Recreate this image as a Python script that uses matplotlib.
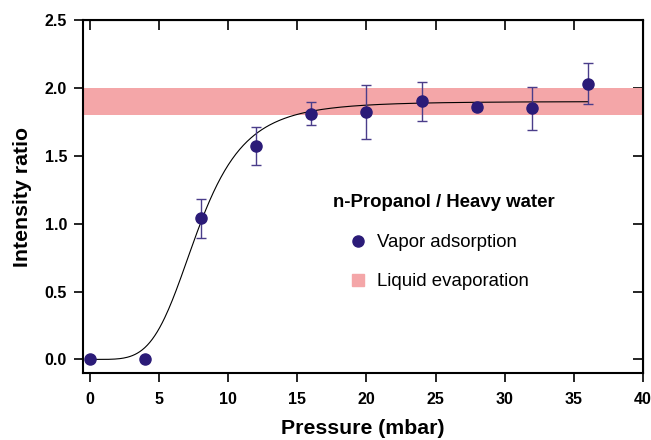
import numpy as np
import matplotlib
matplotlib.use('Agg')
import matplotlib.pyplot as plt
from matplotlib.lines import Line2D

plt.rcParams['font.family'] = ['Liberation Sans', 'DejaVu Sans']

# measured points (vapor adsorption)
pressure = [0, 4, 8, 12, 16, 20, 24, 28, 32, 36]
ratio = [0.0, 0.0, 1.04, 1.57, 1.81, 1.82, 1.90, 1.86, 1.85, 2.03]
ratio_err = [0, 0, 0.145, 0.14, 0.085, 0.20, 0.145, 0.025, 0.16, 0.15]

# liquid evaporation range
band_lo, band_hi = 1.80, 2.00

# sigmoid (Hill) fit parameters
fit_amp = 1.90
fit_k = 7.8
fit_n = 4.5

navy = '#2b1b78'
err_col = '#4a3d8a'
pink = '#f4a6a8'

fig = plt.figure(figsize=(6.51, 4.4), dpi=100)
ax = fig.add_axes([83 / 651, 1 - 373 / 440, 560 / 651, 353 / 440])

ax.axhspan(band_lo, band_hi, color=pink, lw=0, zorder=1)

xf = np.linspace(0, 36, 400)
yf = fit_amp * xf ** fit_n / (fit_k ** fit_n + xf ** fit_n)
ax.plot(xf, yf, color='black', lw=0.8, zorder=2)

ax.errorbar(pressure, ratio, yerr=ratio_err, fmt='none', ecolor=err_col,
            elinewidth=1.0, capsize=3.3, capthick=1.0, zorder=3)
ax.plot(pressure, ratio, 'o', color=navy, ms=8, zorder=4)

ax.set_xlim(-0.5, 40)
ax.set_ylim(-0.1, 2.5)
ax.set_xticks(np.arange(0, 41, 5))
ax.set_yticks([0, 0.5, 1.0, 1.5, 2.0, 2.5])
ax.set_yticklabels(['0.0', '0.5', '1.0', '1.5', '2.0', '2.5'])

for s in ax.spines.values():
    s.set_linewidth(1.5)
ax.tick_params(direction='out', length=6.5, width=1.2, labelsize=11.5)
ax.tick_params(axis='x', pad=7)
ax.tick_params(axis='y', pad=5)
for lab in ax.get_xticklabels() + ax.get_yticklabels():
    lab.set_fontweight('bold')

top = ax.secondary_xaxis('top')
top.set_xticks(np.arange(0, 41, 5))
top.tick_params(direction='in', length=7.5, width=1.2, labeltop=False)
right = ax.secondary_yaxis('right')
right.set_yticks([0, 0.5, 1.0, 1.5, 2.0])
right.tick_params(direction='in', length=7.5, width=1.2, labelright=False)

ax.set_xlabel('Pressure (mbar)', fontsize=15.3, fontweight='bold', labelpad=9)
ax.set_ylabel('Intensity ratio', fontsize=15.3, fontweight='bold', labelpad=9)

ax.text(0.446, 0.484, 'n-Propanol / Heavy water', transform=ax.transAxes,
        fontsize=13.4, fontweight='bold', va='center', ha='left')

handles = [Line2D([], [], ls='none', marker='o', color=navy, ms=8),
           Line2D([], [], ls='none', marker='s', color=pink, ms=8)]
ax.legend(handles, ['Vapor adsorption', 'Liquid evaporation'],
          loc='upper left', bbox_to_anchor=(0.4745, 0.393), frameon=False,
          fontsize=13.4, borderpad=0, borderaxespad=0, handlelength=1.0,
          handletextpad=0.52, labelspacing=1.17)

fig.savefig('out.png', dpi=100)
